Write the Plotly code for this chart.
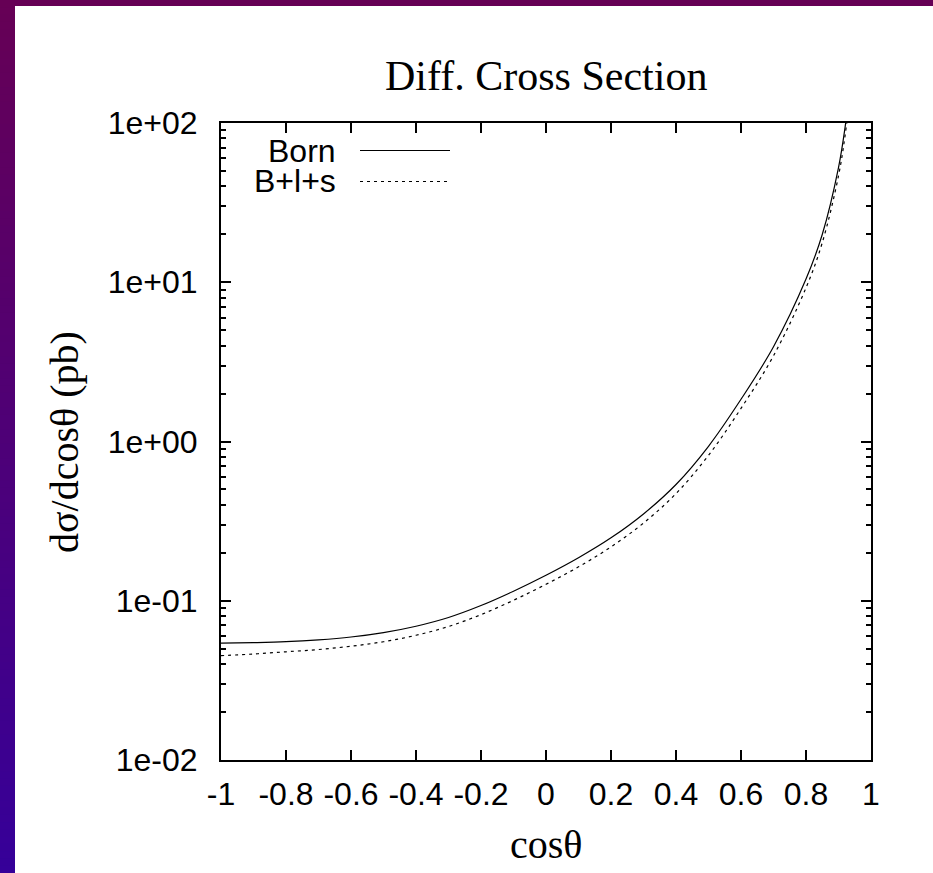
import plotly.graph_objects as go

# ---- data ----
cos_theta = [-1.0, -0.9, -0.8, -0.7, -0.6, -0.5, -0.4, -0.3, -0.2, -0.1,
             0.0, 0.1, 0.2, 0.3, 0.4, 0.5, 0.6, 0.7, 0.8, 0.85, 0.9, 0.92, 0.94]
born = [0.0542, 0.0546, 0.0553, 0.0568, 0.0592, 0.0631, 0.0692, 0.0785, 0.0933, 0.1148,
        0.1445, 0.1862, 0.2483, 0.3508, 0.537, 0.9333, 1.841, 3.936, 10.47, 19.95, 52.5, 93.3, 204.0]
bls = [0.0452, 0.0463, 0.0478, 0.0494, 0.0518, 0.0553, 0.0607, 0.0689, 0.0818, 0.1007,
       0.1268, 0.1633, 0.2178, 0.3076, 0.471, 0.8185, 1.614, 3.451, 9.226, 17.7, 46.6, 82.8, 182.0]

x_tickvals = [-1, -0.8, -0.6, -0.4, -0.2, 0, 0.2, 0.4, 0.6, 0.8, 1]
x_ticktext = ["-1", "-0.8", "-0.6", "-0.4", "-0.2", "0", "0.2", "0.4", "0.6", "0.8", "1"]
y_tickvals = [0.01, 0.1, 1, 10, 100]
y_ticktext = ["1e-02", "1e-01", "1e+00", "1e+01", "1e+02"]
y_minor = [m * d for d in (0.01, 0.1, 1, 10) for m in range(2, 10)]

title_text = "Diff. Cross Section"
xlabel = "cosθ"
ylabel = "dσ/dcosθ (pb)"
names = ["Born", "B+l+s"]

W, H = 933, 873
L, R, T, B = 221, 62, 123, 113
PW, PH = W - L - R, H - T - B


def px(xp):
    return (xp - L) / PW


def py(yp):
    return (H - B - yp) / PH


SANS = "Liberation Sans, Arial, Helvetica, sans-serif"
SERIF = "Liberation Serif, Times New Roman, serif"

fig = go.Figure()
fig.add_trace(go.Scatter(x=cos_theta, y=born, mode="lines", name=names[0],
                         line=dict(color="black", width=1.2, shape="spline", smoothing=1.0)))
fig.add_trace(go.Scatter(x=cos_theta, y=bls, mode="lines", name=names[1],
                         line=dict(color="black", width=1.2, dash="3px,4px", shape="spline", smoothing=1.0)))

shapes = []
# gradient border on the left (each band runs to the bottom so no seams), solid strip on top
n = 120
c0 = (102, 0, 85)
c1 = (54, 0, 153)
for i in range(n):
    t = i / (n - 1)
    col = "rgb(%d,%d,%d)" % tuple(round(a + (b - a) * t) for a, b in zip(c0, c1))
    y0p = H * i / n
    shapes.append(dict(type="rect", xref="paper", yref="paper",
                       x0=px(0), x1=px(15), y0=py(H + 2), y1=py(y0p),
                       fillcolor=col, line=dict(width=0), layer="above"))
shapes.append(dict(type="rect", xref="paper", yref="paper",
                   x0=px(0), x1=px(W), y0=py(6), y1=py(-2),
                   fillcolor="rgb(102,0,85)", line=dict(width=0), layer="above"))
# legend samples
shapes.append(dict(type="line", xref="paper", yref="paper",
                   x0=px(360), x1=px(450), y0=py(150.5), y1=py(150.5),
                   line=dict(color="black", width=1.2)))
shapes.append(dict(type="line", xref="paper", yref="paper",
                   x0=px(360), x1=px(448), y0=py(181.5), y1=py(181.5),
                   line=dict(color="black", width=1.2, dash="3px,4px")))

annotations = [
    dict(text=title_text, xref="paper", yref="paper", x=px(546), y=py(76),
         xanchor="center", yanchor="middle", showarrow=False,
         font=dict(family=SERIF, size=42, color="black")),
    dict(text=xlabel, xref="paper", yref="paper", x=px(546), y=py(844),
         xanchor="center", yanchor="middle", showarrow=False,
         font=dict(family=SERIF, size=40, color="black")),
    dict(text=ylabel, xref="paper", yref="paper", x=px(64), y=py(442),
         xanchor="center", yanchor="middle", showarrow=False, textangle=-90,
         font=dict(family=SERIF, size=40, color="black")),
    dict(text=names[0], xref="paper", yref="paper", x=px(338), y=py(150.6),
         xanchor="right", yanchor="middle", showarrow=False,
         font=dict(family=SANS, size=32, color="black")),
    dict(text=names[1], xref="paper", yref="paper", x=px(338), y=py(180.6),
         xanchor="right", yanchor="middle", showarrow=False,
         font=dict(family=SANS, size=32, color="black")),
]

fig.update_layout(
    width=W, height=H,
    margin=dict(l=L, r=R, t=T, b=B, pad=0),
    paper_bgcolor="white", plot_bgcolor="white",
    showlegend=False,
    shapes=shapes, annotations=annotations,
    font=dict(family=SANS, size=32, color="black"),
)
fig.update_xaxes(
    range=[-1, 1], tickmode="array", tickvals=x_tickvals, ticktext=x_ticktext,
    ticks="inside", ticklen=10, tickwidth=1.5, tickcolor="black",
    showline=True, linecolor="black", linewidth=2, mirror="allticks",
    showgrid=False, zeroline=False, ticklabelstandoff=5,
    tickfont=dict(family=SANS, size=32, color="black"),
)
fig.update_yaxes(
    type="log", range=[-2, 2], tickmode="array", tickvals=y_tickvals, ticktext=y_ticktext,
    ticks="inside", ticklen=10, tickwidth=1.5, tickcolor="black",
    minor=dict(tickmode="array", tickvals=y_minor, ticks="inside", ticklen=5,
               tickwidth=1.5, tickcolor="black", showgrid=False),
    showline=True, linecolor="black", linewidth=2, mirror="allticks",
    showgrid=False, zeroline=False, ticklabelstandoff=15,
    tickfont=dict(family=SANS, size=32, color="black"),
)

fig.write_html("out.html",
               config={"displayModeBar": False},
               post_script="document.body.style.margin='0px';document.body.style.overflow='hidden';")
